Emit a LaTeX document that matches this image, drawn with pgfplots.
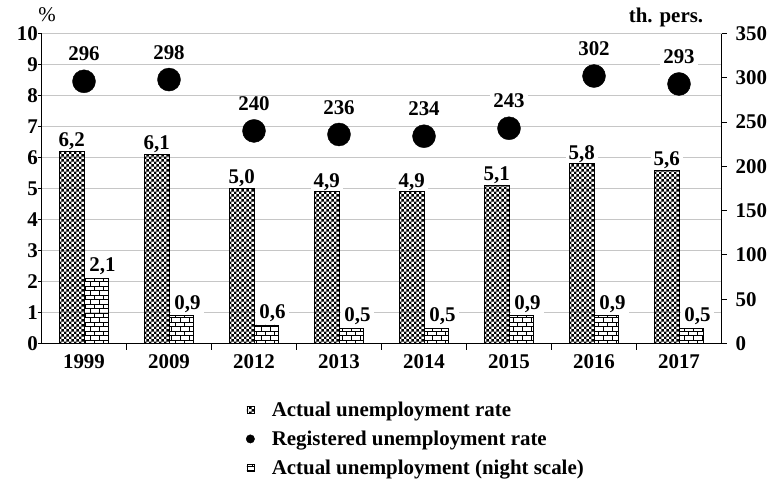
\documentclass[border=0pt]{standalone}
\usepackage{fontspec}
\setmainfont{Liberation Serif}
\usepackage{pgfplots}
\pgfplotsset{compat=1.18}
\usetikzlibrary{patterns}

\newcommand\lbl{\bfseries\fontsize{21}{24}\selectfont}

% fine checkerboard for the rate bars
\pgfdeclarepatternformonly{checker}{\pgfpointorigin}{\pgfpoint{5.4bp}{5.4bp}}{\pgfpoint{5.4bp}{5.4bp}}{
  \pgfpathrectangle{\pgfpointorigin}{\pgfpoint{2.7bp}{2.7bp}}
  \pgfpathrectangle{\pgfpoint{2.7bp}{2.7bp}}{\pgfpoint{2.7bp}{2.7bp}}
  \pgfusepath{fill}}
% bricks for the second bars
\pgfdeclarepatternformonly{mybricks}{\pgfpoint{-0.5bp}{-0.5bp}}{\pgfpoint{9.5bp}{9.5bp}}{\pgfpoint{9bp}{9bp}}{
  \pgfsetlinewidth{0.6bp}
  \pgfpathmoveto{\pgfpoint{0bp}{0bp}}\pgfpathlineto{\pgfpoint{9bp}{0bp}}
  \pgfpathmoveto{\pgfpoint{0bp}{4.5bp}}\pgfpathlineto{\pgfpoint{9bp}{4.5bp}}
  \pgfpathmoveto{\pgfpoint{0bp}{0bp}}\pgfpathlineto{\pgfpoint{0bp}{4.5bp}}
  \pgfpathmoveto{\pgfpoint{4.5bp}{4.5bp}}\pgfpathlineto{\pgfpoint{4.5bp}{9bp}}
  \pgfusepath{stroke}}

\pgfplotsset{
  sqlegend/.style={legend image code/.code={\draw[##1] (0bp,-3.5bp) rectangle (7bp,3.5bp);}},
  dotlegend/.style={legend image code/.code={\fill[black] (3.5bp,0bp) circle (4.2bp);}},
}

\begin{document}
\begin{tikzpicture}
\useasboundingbox (-41.5bp,-140.5bp) rectangle (733.5bp,343.5bp);

\begin{axis}[
    at={(0,0)}, anchor=south west,
    scale only axis, width=680bp, height=310bp,
    xmin=-0.5, xmax=7.5, ymin=0, ymax=10,
    axis x line*=bottom, axis y line*=left,
    axis line style={black, line width=1.2bp},
    ytick={0,1,...,10},
    ymajorgrids,
    major grid style={gray!45, line width=0.9bp},
    xtick={0,...,7},
    xticklabels={1999,2009,2012,2013,2014,2015,2016,2017},
    major x tick style={draw=none},
    minor xtick={0.5,1.5,...,6.5},
    minor tick length=6bp,
    major tick length=4bp,
    tick align=outside,
    tick style={black, line width=1bp},
    ticklabel style={font=\lbl, inner sep=1bp},
    yticklabel style={xshift=1.5bp},
    xticklabel style={yshift=-6bp},
    /pgf/number format/assume math mode=true,
    legend style={at={(rel axis cs:0.296,-0.175)}, anchor=north west,
        draw=none, font=\lbl, row sep=9bp,
        /tikz/every odd column/.style={column sep=15bp}},
    legend cell align=left,
    every node near coord/.append style={font=\lbl, fill=white,
        inner xsep=3bp, inner ysep=1bp},
]
\addplot[ybar, bar width=24.5bp, bar shift=-12.25bp, draw=black, line width=0.6bp,
    pattern=checker, sqlegend,
    nodes near coords={\pgfmathprintnumber[fixed,fixed zerofill,precision=1,use comma]{\pgfplotspointmeta}},
    every node near coord/.append style={xshift=-12.25bp}]
  coordinates {(0,6.2) (1,6.1) (2,5.0) (3,4.9) (4,4.9) (5,5.1) (6,5.8) (7,5.6)};
\addlegendentry{Actual unemployment rate}
\addlegendimage{dotlegend}
\addlegendentry{Registered unemployment rate}
\addplot[ybar, bar width=24.5bp, bar shift=12.25bp, draw=black, line width=0.6bp,
    pattern=mybricks, sqlegend,
    nodes near coords={\pgfmathprintnumber[fixed,fixed zerofill,precision=1,use comma]{\pgfplotspointmeta}},
    every node near coord/.append style={xshift=18.5bp, yshift=2bp}]
  coordinates {(0,2.1) (1,0.9) (2,0.6) (3,0.5) (4,0.5) (5,0.9) (6,0.9) (7,0.5)};
\addlegendentry{Actual unemployment (night scale)}
\end{axis}

\begin{axis}[
    at={(0,0)}, anchor=south west,
    scale only axis, width=680bp, height=310bp,
    xmin=-0.5, xmax=7.5, ymin=0, ymax=350,
    axis x line=none, axis y line*=right,
    axis line style={black, line width=1.2bp},
    ytick={0,50,...,350},
    major tick length=5bp,
    tick align=outside,
    tick style={black, line width=1bp},
    ticklabel style={font=\lbl, inner sep=1bp},
    yticklabel style={xshift=8bp},
    /pgf/number format/assume math mode=true,
]
\addplot[only marks, mark=*, mark size=11.5bp, black,
    nodes near coords,
    every node near coord/.append style={font=\lbl, fill=white, text=black,
        anchor=south, yshift=19bp, inner xsep=3bp, inner ysep=1bp}]
  coordinates {(0,296) (1,298) (2,240) (3,236) (4,234) (5,243) (6,302) (7,293)};
\end{axis}

\node[font=\fontsize{21}{24}\selectfont, inner sep=0] at (5.5bp,328.5bp) {\%};
\node[font=\lbl, inner sep=0] at (624.5bp,326.5bp) {th. pers.};
\end{tikzpicture}
\end{document}
